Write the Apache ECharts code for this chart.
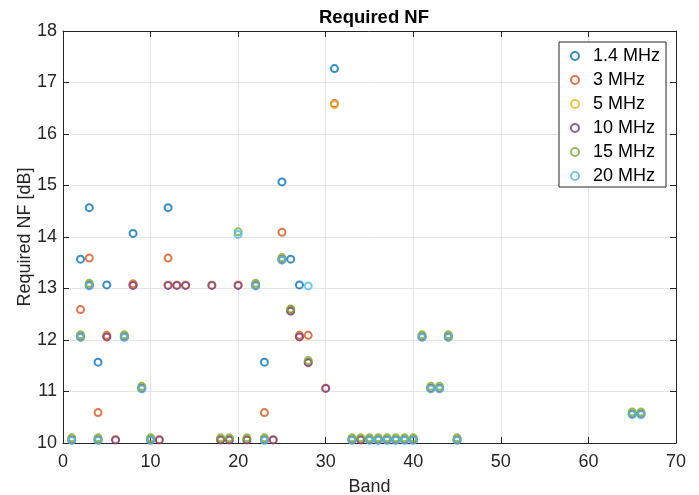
<!DOCTYPE html>
<html>
<head>
<meta charset="utf-8">
<script src="https://cdn.jsdelivr.net/npm/echarts@6/dist/echarts.min.js"></script>
<style>
html, body { margin: 0; padding: 0; background: #fff; }
#chart { width: 699px; height: 495px; }
</style>
</head>
<body>
<div id="chart"></div>
<script>
// band numbers and required NF [dB] per channel bandwidth
var bands14 = [2, 3, 4, 5, 8, 12, 23, 25, 26, 27, 31];
var nf14 = [13.57, 14.57, 11.57, 13.07, 14.07, 14.57, 11.57, 15.07, 13.57, 13.07, 17.27];

var bands3 = [2, 3, 4, 5, 8, 12, 23, 25, 26, 27, 28, 31];
var nf3 = [12.59, 13.59, 10.59, 12.09, 13.09, 13.59, 10.59, 14.09, 12.59, 12.09, 12.09, 16.59];

var bands5 = [1, 2, 3, 4, 5, 6, 7, 8, 9, 10, 11, 12, 13, 14, 17, 18, 19, 20, 21, 22, 23, 24, 25, 26, 27, 28, 30, 31,
    33, 34, 35, 36, 37, 38, 39, 40, 41, 42, 43, 44, 45, 65, 66];
var nf5 = [10.07, 12.07, 13.07, 10.07, 12.07, 10.07, 12.07, 13.07, 11.07, 10.07, 10.07, 13.07, 13.07, 13.07, 13.07,
    10.07, 10.07, 13.07, 10.07, 13.07, 10.07, 10.07, 13.57, 12.57, 12.07, 11.57, 11.07, 16.57,
    10.07, 10.07, 10.07, 10.07, 10.07, 10.07, 10.07, 10.07, 12.07, 11.07, 11.07, 12.07, 10.07, 10.57, 10.57];

var bands10 = [1, 2, 3, 4, 5, 6, 7, 8, 9, 10, 11, 12, 13, 14, 17, 18, 19, 20, 21, 22, 23, 24, 25, 26, 27, 28, 30,
    33, 34, 35, 36, 37, 38, 39, 40, 41, 42, 43, 44, 45, 65, 66];
var nf10 = [10.06, 12.06, 13.06, 10.06, 12.06, 10.06, 12.06, 13.06, 11.06, 10.06, 10.06, 13.06, 13.06, 13.06, 13.06,
    10.06, 10.06, 13.06, 10.06, 13.06, 10.06, 10.06, 13.56, 12.56, 12.06, 11.56, 11.06,
    10.06, 10.06, 10.06, 10.06, 10.06, 10.06, 10.06, 10.06, 12.06, 11.06, 11.06, 12.06, 10.06, 10.56, 10.56];

var bands15 = [1, 2, 3, 4, 7, 9, 10, 18, 19, 20, 21, 22, 23, 25, 26, 28,
    33, 34, 35, 36, 37, 38, 39, 40, 41, 42, 43, 44, 45, 65, 66];
var nf15 = [10.10, 12.10, 13.10, 10.10, 12.10, 11.10, 10.10, 10.10, 10.10, 14.10, 10.10, 13.10, 10.10, 13.60, 12.60, 11.60,
    10.10, 10.10, 10.10, 10.10, 10.10, 10.10, 10.10, 10.10, 12.10, 11.10, 11.10, 12.10, 10.10, 10.60, 10.60];

var bands20 = [1, 2, 3, 4, 7, 9, 10, 20, 22, 23, 25, 28,
    33, 35, 36, 37, 38, 39, 40, 41, 42, 43, 44, 45, 65, 66];
var nf20 = [10.05, 12.05, 13.05, 10.05, 12.05, 11.05, 10.05, 14.05, 13.05, 10.05, 13.55, 13.05,
    10.05, 10.05, 10.05, 10.05, 10.05, 10.05, 10.05, 12.05, 11.05, 11.05, 12.05, 10.05, 10.55, 10.55];

var seriesNames = ['1.4 MHz', '3 MHz', '5 MHz', '10 MHz', '15 MHz', '20 MHz'];
var seriesColors = ['#0072BD', '#D95319', '#EDB120', '#7E2F8E', '#77AC30', '#4DBEEE'];
var xTicks = [0, 10, 20, 30, 40, 50, 60, 70];
var yTicks = [10, 11, 12, 13, 14, 15, 16, 17, 18];

var allBands = [bands14, bands3, bands5, bands10, bands15, bands20];
var allNf = [nf14, nf3, nf5, nf10, nf15, nf20];

var chart = echarts.init(document.getElementById('chart'), null, {renderer: 'canvas'});
var FONT = '"Liberation Sans", Arial, Helvetica, sans-serif';
var AX = '#262626';

var series = [];
for (var s = 0; s < seriesNames.length; s++) {
    var pts = [];
    for (var i = 0; i < allBands[s].length; i++) {
        pts.push([allBands[s][i], allNf[s][i]]);
    }
    series.push({
        name: seriesNames[s],
        type: 'scatter',
        data: pts,
        symbol: 'circle',
        symbolSize: 7,
        itemStyle: {
            color: 'rgba(255,255,255,0)',
            borderColor: seriesColors[s],
            borderWidth: 2
        },
        emphasis: {disabled: true},
        animation: false
    });
}

function axisBase(min, max, step, pos, showLabels) {
    return {
        type: 'value',
        position: pos,
        min: min,
        max: max,
        interval: step,
        nameMoveOverlap: false,
        axisLine: {show: true, onZero: false, lineStyle: {color: AX, width: 1}},
        axisTick: {show: true, inside: true, length: 6, lineStyle: {color: AX}},
        axisLabel: {show: showLabels, color: AX, fontSize: 18, fontFamily: FONT},
        splitLine: {show: showLabels, lineStyle: {color: '#e5e5e5', width: 1}}
    };
}

var xBottom = axisBase(xTicks[0], xTicks[xTicks.length - 1], 10, 'bottom', true);
xBottom.name = 'Band';
xBottom.nameLocation = 'middle';
xBottom.nameGap = 35;
xBottom.nameTextStyle = {color: AX, fontSize: 18, fontFamily: FONT};
xBottom.axisLabel.margin = 10;
var xTop = axisBase(xTicks[0], xTicks[xTicks.length - 1], 10, 'top', false);

var yLeft = axisBase(yTicks[0], yTicks[yTicks.length - 1], 1, 'left', true);
yLeft.name = 'Required NF [dB]';
yLeft.nameLocation = 'middle';
yLeft.nameGap = 29;
yLeft.nameTextStyle = {color: AX, fontSize: 18, fontFamily: FONT};
yLeft.axisLabel.margin = 6;
var yRight = axisBase(yTicks[0], yTicks[yTicks.length - 1], 1, 'right', false);

var option = {
    backgroundColor: '#fff',
    animation: false,
    title: {
        text: 'Required NF',
        left: 369,
        textAlign: 'center',
        top: 3,
        textStyle: {color: '#000', fontSize: 18.5, fontWeight: 'bold', fontFamily: FONT}
    },
    grid: {left: 63, right: 23, top: 31, bottom: 52, outerBoundsMode: 'none', containLabel: false},
    legend: {
        data: seriesNames,
        orient: 'vertical',
        left: 559,
        top: 42,
        padding: [5, 6, 2, 11],
        itemGap: 6,
        itemWidth: 8,
        itemHeight: 8,
        backgroundColor: '#fff',
        borderColor: '#262626',
        borderWidth: 1,
        textStyle: {color: '#000', fontSize: 18, fontFamily: FONT, padding: [0, 0, 0, 9]}
    },
    xAxis: [xBottom, xTop],
    yAxis: [yLeft, yRight],
    series: series
};
chart.setOption(option);
</script>
</body>
</html>
